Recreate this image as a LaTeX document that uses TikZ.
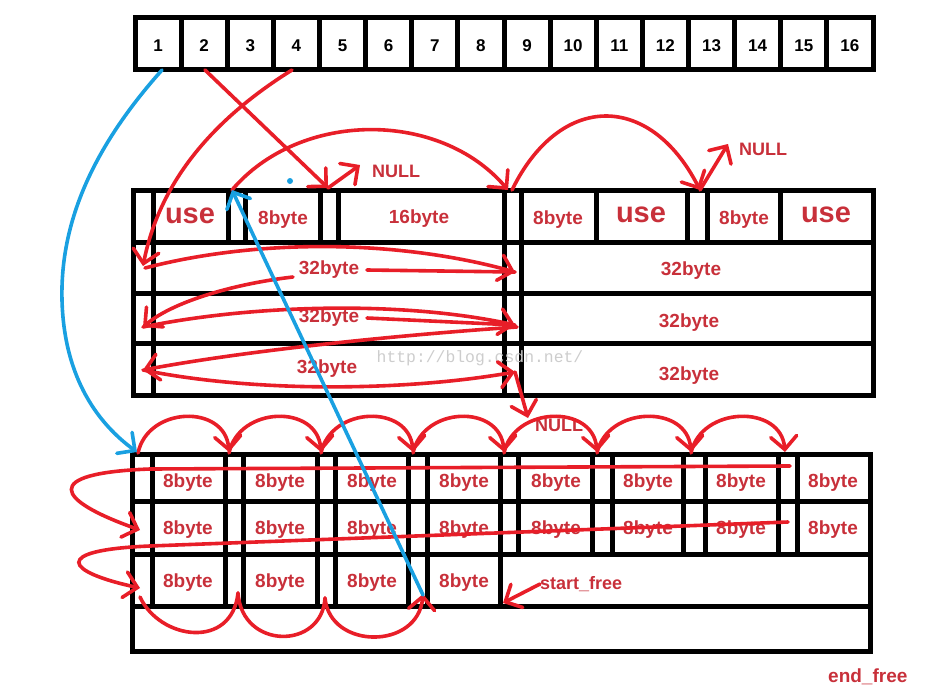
\documentclass[tikz,border=0pt]{standalone}
\usepackage{fontspec}
\setmainfont{Liberation Sans}
\newfontfamily\wmfont{Liberation Mono}
\usetikzlibrary{arrows.meta}
\definecolor{txtred}{RGB}{200,48,58}
\definecolor{arrred}{RGB}{232,30,40}
\definecolor{arrblue}{RGB}{25,160,225}
\definecolor{wmgray}{RGB}{205,205,205}
\tikzset{
  grid/.style={draw=black, line width=5pt, line join=miter},
  gline/.style={draw=black, line width=5pt},
  num/.style={font=\bfseries\fontsize{17}{20}\selectfont, text=black, inner sep=0pt, yshift=-1.5pt},
  lbl/.style={font=\bfseries\fontsize{19}{22}\selectfont, text=txtred, inner sep=0pt, yshift=-2pt},
  biglbl/.style={font=\bfseries\fontsize{29}{32}\selectfont, text=txtred, inner sep=0pt},
  nulllbl/.style={font=\bfseries\fontsize{18}{21}\selectfont, text=txtred, inner sep=0pt, yshift=-2pt},
  redline/.style={draw=arrred, line width=3.6pt, line cap=round},
  redarr/.style={redline, -{Straight Barb[length=13pt,width=26pt,line cap=round]}},
  bluearr/.style={draw=arrblue, line width=3.6pt, line cap=round, -{Straight Barb[length=13pt,width=26pt,line cap=round]}},
}
\begin{document}
\begin{tikzpicture}[x=1pt,y=-1pt]
\useasboundingbox (0,0) rectangle (942,696);

% ---------------- top array ----------------
\draw[grid] (135,17.5) rectangle (873,69);
\foreach \i in {1,...,15}{
  \draw[gline] ({135+46.125*\i},17.5) -- ({135+46.125*\i},69);
}
\foreach \i in {1,...,16}{
  \node[num] (n\i) at ({135+46.125*(\i-0.5)},44) {\i};
}

% ---------------- middle block ----------------
\draw[grid] (133,190) rectangle (873,395);
\foreach \y in {242,293,343}{ \draw[gline] (133,\y) -- (873,\y); }
\foreach \x in {153,504,521}{ \draw[gline] (\x,190) -- (\x,395); }
\foreach \x in {228,245,320,338,596,687,707,780}{ \draw[gline] (\x,190) -- (\x,242); }

\node[biglbl] (m1) at (190,216) {use};
\node[lbl] (m2) at (283,218) {8byte};
\node[lbl] (m3) at (419,217) {16byte};
\node[lbl] (m4) at (558,218) {8byte};
\node[biglbl] (m5) at (641,215) {use};
\node[lbl] (m6) at (744,218) {8byte};
\node[biglbl] (m7) at (826,215) {use};
\node[lbl] (r2a) at (329,268) {32byte};
\node[lbl] (r3a) at (329,316) {32byte};
\node[lbl] (r4a) at (327,367) {32byte};
\node[lbl] (r2b) at (691,269) {32byte};
\node[lbl] (r3b) at (689,321) {32byte};
\node[lbl] (r4b) at (689,374) {32byte};

\node[font=\wmfont\fontsize{16.4}{18}\selectfont, text=wmgray, inner sep=0pt] (wm) at (480,358) {http://blog.csdn.net/};

% ---------------- bottom block ----------------
\draw[grid] (132,454) rectangle (870,651);
\foreach \y in {501,554,606}{ \draw[gline] (132,\y) -- (870,\y); }
\foreach \x in {152,225,243,317,335,408,427,500}{ \draw[gline] (\x,454) -- (\x,606); }
\foreach \x in {518,592,612,683,705,778,797}{ \draw[gline] (\x,454) -- (\x,554); }

\foreach \x [count=\k] in {188,280,372,464,556,648,741,833}{
  \node[lbl] (ba\k) at (\x,481) {8byte};
  \node[lbl] (bb\k) at (\x,528) {8byte};
}
\foreach \x [count=\k] in {188,280,372,464}{
  \node[lbl] (bc\k) at (\x,581) {8byte};
}
\node[nulllbl, anchor=west] (sf) at (540,582) {start\_free};
\node[lbl, anchor=west] (ef) at (828,675) {end\_free};

% ---------------- NULL labels ----------------
\node[nulllbl] (null1) at (396,169) {NULL};
\node[nulllbl] (null2) at (763,147) {NULL};
\node[nulllbl] (null3) at (559,423) {NULL};

% ---------------- coordinates ----------------
\coordinate (c2) at (205,70);
\coordinate (c4) at (292,70);
\coordinate (c1) at (162,70);
\coordinate (f16) at (328,188);
\coordinate (f8a) at (232,190);
\coordinate (f8b) at (508,190);
\coordinate (f8bs) at (512,190);
\coordinate (f8c) at (700,190);
\coordinate (nA) at (360,165);
\coordinate (nB) at (728,144);
\coordinate (L2) at (143,266);
\coordinate (L2s) at (145,268);
\coordinate (R2) at (515,272);
\coordinate (L3) at (143,327);
\coordinate (R3) at (515,325);
\coordinate (L4) at (143,370);
\coordinate (R4) at (515,372);
\coordinate (nC) at (528,418);

% ---------------- red arrows, top ----------------
\draw[redarr] (c2) -- (f16);
\draw[redarr] (f16) -- (nA);
\draw[redarr] (c4) .. controls (215,118) and (160,180) .. (L2);
\draw[redarr] (f8a) .. controls (300,110) and (440,110) .. (f8b);
\draw[redarr] (f8bs) .. controls (560,92) and (650,92) .. (f8c);
\draw[redarr] (f8c) -- (nB);

% ---------------- red arrows, middle rows ----------------
\draw[redarr] (L2s) .. controls (260,238) and (400,240) .. (R2);
\draw[redline] (367,270) -- (R2);
\draw[redarr] (293,277) .. controls (240,283) and (175,300) .. (L3);
\draw[redarr] (L3) .. controls (250,305) and (400,300) .. (R3);
\draw[redline] (367,318) -- (R3);
\draw[redarr] (517,327) .. controls (400,335) and (250,350) .. (L4);
\draw[redarr] (L4) .. controls (250,392) and (400,392) .. (R4);
\draw[redarr] (R4) -- (nC);

% ---------------- red arrows, bottom block ----------------
\foreach \a/\b in {138/229,229/321,321/413,413/504,504/597,597/691,691/785}{
  \draw[redarr] (\a,453) .. controls ({\a+10},406) and ({\b-4},404) .. (\b,452);
}
\draw[redarr] (790,466) -- (150,469) .. controls (40,473) and (55,500) .. (140,530);
\draw[redarr] (788,522) -- (150,546) .. controls (50,550) and (65,572) .. (140,588);
\draw[redline] (140,597) .. controls (160,640) and (232,650) .. (238,593);
\draw[redline] (238,593) .. controls (242,650) and (322,650) .. (325,598);
\draw[redarr] (325,598) .. controls (330,650) and (418,650) .. (423,594);
\draw[redarr] (sf.west) -- (503,603);

% ---------------- blue arrows ----------------
\draw[bluearr] (c1) .. controls (95,145) and (60,220) .. (62,300) .. controls (64,380) and (100,425) .. (137,452);
\draw[bluearr] (423,595) -- (f8a);
\fill[arrblue] (290,181) circle (3pt);

\end{tikzpicture}
\end{document}
